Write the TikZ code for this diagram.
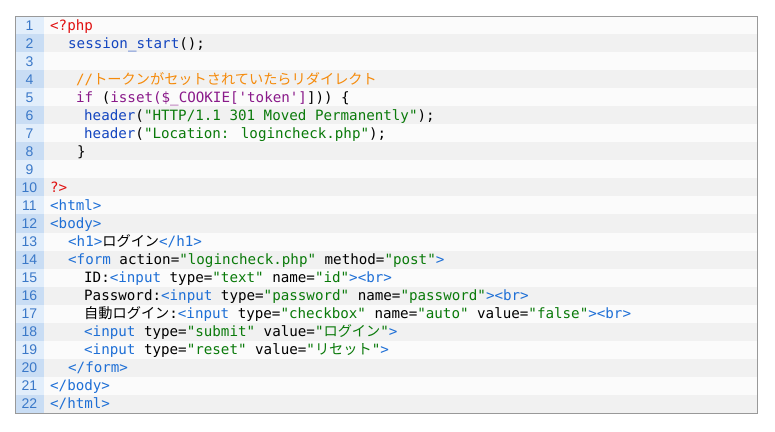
\documentclass[tikz,border=0pt]{standalone}
\usepackage{fontspec}
\newfontfamily\codefont{DejaVu Sans Mono}
\newfontfamily\cjk{Noto Sans CJK JP}
\setsansfont{Liberation Sans}
\definecolor{phpred}{HTML}{E01010}
\definecolor{fnblue}{HTML}{1446C0}
\definecolor{kwpurple}{HTML}{8A1A8A}
\definecolor{strgreen}{HTML}{0A7A0A}
\definecolor{cmorange}{HTML}{F58A0A}
\definecolor{tagblue}{HTML}{1E6FD6}
\definecolor{numblue}{HTML}{3A78C8}
\definecolor{gutA}{HTML}{E2EEFB}
\definecolor{gutB}{HTML}{C9DDF4}
\definecolor{rowA}{HTML}{FBFBFB}
\definecolor{rowB}{HTML}{F1F1F1}
\newcommand\Rd[1]{\textcolor{phpred}{#1}}
\newcommand\Fb[1]{\textcolor{fnblue}{#1}}
\newcommand\Kp[1]{\textcolor{kwpurple}{#1}}
\newcommand\Sg[1]{\textcolor{strgreen}{#1}}
\newcommand\Tb[1]{\textcolor{tagblue}{#1}}
\newcommand\J[1]{{\cjk\fontsize{14.2}{16}\selectfont #1}}
\begin{document}
\begin{tikzpicture}[x=1pt,y=-1pt,
  code/.style={anchor=base west,inner sep=0pt,font=\codefont\fontsize{14.2}{16}\selectfont},
  num/.style={anchor=base,inner sep=0pt,text=numblue,font=\sffamily\fontsize{14}{16}\selectfont}]
\useasboundingbox (0,0) rectangle (775,431);
\fill[white] (0,0) rectangle (775,431);
\foreach \i in {1,...,22}{
  \pgfmathsetmacro\top{16+18.045*(\i-1)}
  \pgfmathsetmacro\bot{\top+18.045}
  \ifodd\i
    \fill[gutA] (15,\top) rectangle (44,\bot);
    \fill[rowA] (44,\top) rectangle (757,\bot);
  \else
    \fill[gutB] (15,\top) rectangle (44,\bot);
    \fill[rowB] (44,\top) rectangle (757,\bot);
  \fi
  \node[num] (n\i) at (29.5,\top+14) {\i};
}
\draw[gray!80,line width=1pt] (15,16) rectangle (757,413);
\def\bl#1{16+18.045*(#1-1)+14}
\node[code] (l1) at (50,{\bl1}) {\Rd{<?php}};
\node[code] (l2) at (68,{\bl2}) {\Fb{session\_start}();};
\node[code] (l4) at (76,{\bl4}) {\textcolor{cmorange}{//\J{トークンがセットされていたらリダイレクト}}};
\node[code] (l5) at (76,{\bl5}) {\Kp{if} (\Kp{isset(\$\_COOKIE['token']}])) \{};
\node[code] (l6) at (84,{\bl6}) {\Fb{header}(\Sg{"HTTP/1.1 301 Moved Permanently"});};
\node[code] (l7) at (84,{\bl7}) {\Fb{header}(\Sg{"Location: logincheck.php"});};
\node[code] (l8) at (77,{\bl8}) {\}};
\node[code] (l10) at (50,{\bl{10}}) {\Rd{?>}};
\node[code] (l11) at (50,{\bl{11}}) {\Tb{<html>}};
\node[code] (l12) at (50,{\bl{12}}) {\Tb{<body>}};
\node[code] (l13) at (68,{\bl{13}}) {\Tb{<h1>}\J{ログイン}\Tb{</h1>}};
\node[code] (l14) at (68,{\bl{14}}) {\Tb{<form} action=\Sg{"logincheck.php"} method=\Sg{"post"}\Tb{>}};
\node[code] (l15) at (84,{\bl{15}}) {ID:\Tb{<input} type=\Sg{"text"} name=\Sg{"id"}\Tb{><br>}};
\node[code] (l16) at (84,{\bl{16}}) {Password:\Tb{<input} type=\Sg{"password"} name=\Sg{"password"}\Tb{><br>}};
\node[code] (l17) at (84,{\bl{17}}) {\J{自動ログイン}:\Tb{<input} type=\Sg{"checkbox"} name=\Sg{"auto"} value=\Sg{"false"}\Tb{><br>}};
\node[code] (l18) at (84,{\bl{18}}) {\Tb{<input} type=\Sg{"submit"} value=\Sg{"\J{ログイン}"}\Tb{>}};
\node[code] (l19) at (84,{\bl{19}}) {\Tb{<input} type=\Sg{"reset"} value=\Sg{"\J{リセット}"}\Tb{>}};
\node[code] (l20) at (68,{\bl{20}}) {\Tb{</form>}};
\node[code] (l21) at (50,{\bl{21}}) {\Tb{</body>}};
\node[code] (l22) at (50,{\bl{22}}) {\Tb{</html>}};
\end{tikzpicture}
\end{document}
